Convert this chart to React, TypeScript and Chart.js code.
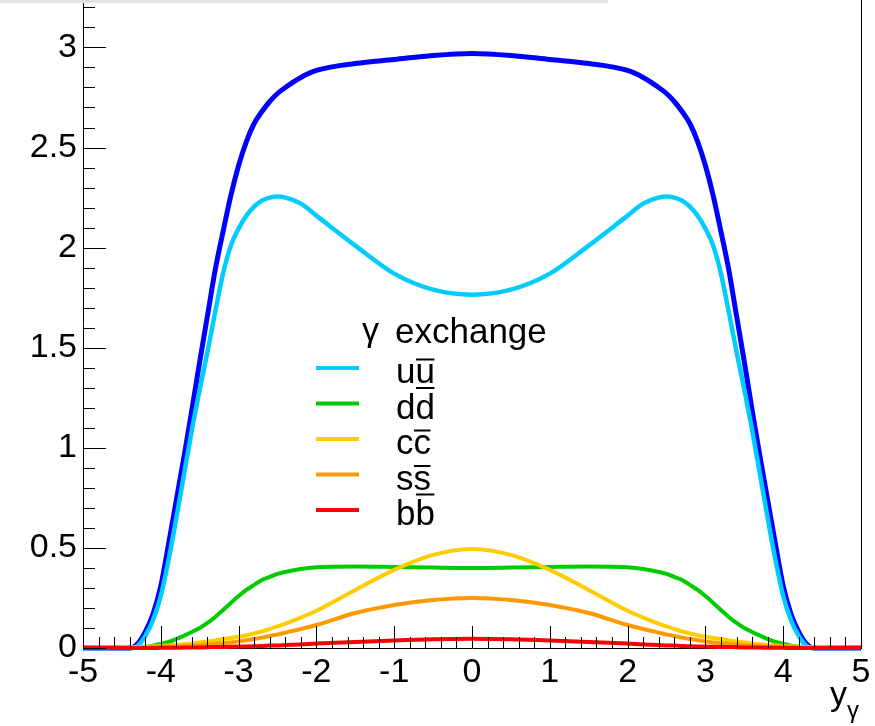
import React, { useEffect, useRef } from 'react';
import { Chart, registerables } from 'chart.js';

Chart.register(...registerables);

// ---- data ----
const xs = [
  -5, -4.6, -4.4, -4.3, -4.2, -4.1, -4.0, -3.9, -3.8, -3.7, -3.6, -3.5, -3.4, -3.3, -3.2, -3.1, -3.0,
  -2.9, -2.8, -2.7, -2.6, -2.5, -2.4, -2.2, -2.0, -1.5, -1.0, -0.5, 0,
  0.5, 1.0, 1.5, 2.0, 2.2, 2.4, 2.5, 2.6, 2.7, 2.8, 2.9,
  3.0, 3.1, 3.2, 3.3, 3.4, 3.5, 3.6, 3.7, 3.8, 3.9, 4.0, 4.1, 4.2, 4.3, 4.4, 4.6, 5,
];

const totalValues = [
  0, 0, 0, 0.02, 0.08, 0.17, 0.31, 0.52, 0.74, 0.96, 1.19, 1.43, 1.66, 1.89, 2.08, 2.26, 2.41,
  2.53, 2.62, 2.68, 2.73, 2.77, 2.8, 2.85, 2.885, 2.92, 2.94, 2.96, 2.97,
  2.96, 2.94, 2.92, 2.885, 2.85, 2.8, 2.77, 2.73, 2.68, 2.62, 2.53,
  2.41, 2.26, 2.08, 1.89, 1.66, 1.43, 1.19, 0.96, 0.74, 0.52, 0.31, 0.17, 0.08, 0.02, 0, 0, 0,
];

const uuValues = [
  0, 0, 0, 0.01, 0.06, 0.14, 0.26, 0.44, 0.65, 0.87, 1.09, 1.29, 1.48, 1.68, 1.87, 2.01, 2.095,
  2.16, 2.205, 2.235, 2.25, 2.255, 2.25, 2.22, 2.16, 2.01, 1.87, 1.79, 1.765,
  1.79, 1.87, 2.01, 2.16, 2.22, 2.25, 2.255, 2.25, 2.235, 2.205, 2.16,
  2.095, 2.01, 1.87, 1.68, 1.48, 1.29, 1.09, 0.87, 0.65, 0.44, 0.26, 0.14, 0.06, 0.01, 0, 0, 0,
];

const ddValues = [
  0, 0, 0, 0.002, 0.006, 0.012, 0.02, 0.03, 0.045, 0.062, 0.08, 0.1, 0.125, 0.155, 0.19, 0.225, 0.26,
  0.29, 0.315, 0.34, 0.355, 0.37, 0.38, 0.395, 0.403, 0.407, 0.405, 0.402, 0.4,
  0.402, 0.405, 0.407, 0.403, 0.395, 0.38, 0.37, 0.355, 0.34, 0.315, 0.29,
  0.26, 0.225, 0.19, 0.155, 0.125, 0.1, 0.08, 0.062, 0.045, 0.03, 0.02, 0.012, 0.006, 0.002, 0, 0, 0,
];

const ccValues = [
  0, 0.003, 0.004, 0.005, 0.006, 0.008, 0.01, 0.012, 0.015, 0.019, 0.023, 0.027, 0.032, 0.038, 0.045, 0.05, 0.056,
  0.064, 0.073, 0.083, 0.095, 0.108, 0.122, 0.152, 0.186, 0.29, 0.39, 0.465, 0.495,
  0.465, 0.39, 0.29, 0.186, 0.152, 0.122, 0.108, 0.095, 0.083, 0.073, 0.064,
  0.056, 0.05, 0.045, 0.038, 0.032, 0.027, 0.023, 0.019, 0.015, 0.012, 0.01, 0.008, 0.006, 0.005, 0.004, 0.003, 0,
];

const ssValues = [
  0, 0.001, 0.002, 0.003, 0.004, 0.005, 0.006, 0.007, 0.008, 0.01, 0.012, 0.014, 0.017, 0.02, 0.024, 0.028, 0.033,
  0.039, 0.045, 0.052, 0.06, 0.068, 0.077, 0.095, 0.115, 0.175, 0.215, 0.24, 0.25,
  0.24, 0.215, 0.175, 0.115, 0.095, 0.077, 0.068, 0.06, 0.052, 0.045, 0.039,
  0.033, 0.028, 0.024, 0.02, 0.017, 0.014, 0.012, 0.01, 0.008, 0.007, 0.006, 0.005, 0.004, 0.003, 0.002, 0.001, 0,
];

const bbValues = [
  0, 0, 0, 0, 0, 0, 0.001, 0.001, 0.001, 0.002, 0.002, 0.003, 0.004, 0.005, 0.005, 0.006, 0.007,
  0.008, 0.009, 0.01, 0.012, 0.013, 0.015, 0.018, 0.022, 0.03, 0.038, 0.044, 0.046,
  0.044, 0.038, 0.03, 0.022, 0.018, 0.015, 0.013, 0.012, 0.01, 0.009, 0.008,
  0.007, 0.006, 0.005, 0.005, 0.004, 0.003, 0.002, 0.002, 0.001, 0.001, 0.001, 0, 0, 0, 0, 0, 0,
];

const seriesLabels = ['total', 'uū', 'dd̄', 'cc̄', 'ss̄', 'bb̄'];
const seriesColors = ['#0000ff', '#00ccff', '#00cc00', '#ffcc00', '#ff9900', '#ff0000'];
const seriesWidths = [5, 4.5, 4, 4, 4, 4];

const xTickValues = [-5, -4, -3, -2, -1, 0, 1, 2, 3, 4, 5];
const xTickLabels = ['-5', '-4', '-3', '-2', '-1', '0', '1', '2', '3', '4', '5'];
const yTickValues = [0, 0.5, 1, 1.5, 2, 2.5, 3];
const yTickLabels = ['0', '0.5', '1', '1.5', '2', '2.5', '3'];

const legendQuarks = ['u', 'd', 'c', 's', 'b'];
const legendColors = ['#00ccff', '#00cc00', '#ffcc00', '#ff9900', '#ff0000'];
const legendSymbol = 'γ';
const legendHeader = 'exchange';
const axisTitleMain = 'y';
const axisTitleSub = 'γ';

const FONT = '"Liberation Sans", Arial, Helvetica, sans-serif';

const decorPlugin = {
  id: 'decor',
  afterDatasetsDraw(chart: any) {
    const { ctx, chartArea: a, scales } = chart;
    const x = scales.x;
    const y = scales.y;
    ctx.save();
    ctx.strokeStyle = '#000';
    ctx.lineWidth = 1;
    ctx.beginPath();
    for (let k = 0; k <= 50; k++) {
      const v = x.min + k * 0.2;
      const px = Math.round(x.getPixelForValue(v)) + 0.5;
      const len = k % 5 === 0 ? 22 : 11;
      ctx.moveTo(px, a.bottom);
      ctx.lineTo(px, a.bottom - len);
    }
    for (let k = 0; k <= 40; k++) {
      const v = k * 0.1;
      if (v > y.max) break;
      const py = Math.round(y.getPixelForValue(v)) + 0.5;
      const len = k % 5 === 0 ? 23 : 12;
      ctx.moveTo(a.left, py);
      ctx.lineTo(a.left + len, py);
    }
    ctx.moveTo(Math.round(a.right) + 0.5, a.top);
    ctx.lineTo(Math.round(a.right) + 0.5, a.bottom);
    ctx.stroke();

    ctx.fillStyle = '#000';
    ctx.textBaseline = 'alphabetic';
    ctx.textAlign = 'left';
    ctx.font = `34px ${FONT}`;
    ctx.fillText(axisTitleMain, a.right - 31, a.bottom + 57);
    ctx.font = `24px ${FONT}`;
    ctx.fillText(axisTitleSub, a.right - 14, a.bottom + 70);

    const lx0 = 316;
    const lx1 = 359;
    const tx = 396;
    ctx.font = `34px ${FONT}`;
    ctx.fillText(legendSymbol, 362, 341);
    ctx.font = `35px ${FONT}`;
    ctx.fillText(legendHeader, 395, 343);
    for (let i = 0; i < legendQuarks.length; i++) {
      const ly = 368 + 35.5 * i;
      ctx.strokeStyle = legendColors[i];
      ctx.lineWidth = 4;
      ctx.beginPath();
      ctx.moveTo(lx0, ly);
      ctx.lineTo(lx1, ly);
      ctx.stroke();
      const q = legendQuarks[i];
      const base = ly + 15;
      ctx.fillStyle = '#000';
      ctx.font = `35px ${FONT}`;
      ctx.fillText(q, tx, base);
      const w1 = ctx.measureText(q).width;
      ctx.fillText(q, tx + w1, base);
      const m = ctx.measureText(q);
      const barY = base - m.actualBoundingBoxAscent - 4.5;
      ctx.strokeStyle = '#000';
      ctx.lineWidth = 2;
      ctx.beginPath();
      ctx.moveTo(tx + w1 + 0.5, barY);
      ctx.lineTo(tx + w1 + m.width - 0.5, barY);
      ctx.stroke();
    }
    ctx.restore();
  },
};

export default function App() {
  const ref = useRef<HTMLCanvasElement | null>(null);

  useEffect(() => {
    if (!ref.current) return;
    const all = [totalValues, uuValues, ddValues, ccValues, ssValues, bbValues];
    const datasets = all.map((vals, i) => ({
      label: seriesLabels[i],
      data: xs.map((xv, j) => ({ x: xv, y: vals[j] })),
      borderColor: seriesColors[i],
      backgroundColor: seriesColors[i],
      borderWidth: seriesWidths[i],
      pointRadius: 0,
      fill: false,
      cubicInterpolationMode: 'monotone' as const,
      clip: 6,
      order: all.length - i,
    }));

    const chart = new Chart(ref.current, {
      type: 'line',
      data: { datasets },
      options: {
        animation: false,
        responsive: false,
        maintainAspectRatio: false,
        layout: { padding: { top: 0, right: 14, left: 0, bottom: 0 } },
        plugins: { legend: { display: false }, tooltip: { enabled: false } },
        scales: {
          x: {
            type: 'linear',
            min: -5,
            max: 5,
            afterBuildTicks: (s: any) => {
              s.ticks = xTickValues.map((v) => ({ value: v }));
            },
            afterFit: (s: any) => {
              s.height = 78;
              s.paddingLeft = 0;
              s.paddingRight = 0;
            },
            grid: { display: false, drawTicks: false },
            border: { display: true, color: '#000', width: 1 },
            ticks: {
              autoSkip: false,
              maxRotation: 0,
              padding: 4,
              color: '#000',
              font: { family: FONT, size: 34 },
              callback: (v: any) => {
                const i = xTickValues.indexOf(Number(v));
                return i >= 0 ? xTickLabels[i] : '';
              },
            },
          },
          y: {
            type: 'linear',
            min: 0,
            max: 3.237,
            afterBuildTicks: (s: any) => {
              s.ticks = yTickValues.map((v) => ({ value: v }));
            },
            afterFit: (s: any) => {
              s.width = 83;
              s.paddingTop = 0;
              s.paddingBottom = 0;
            },
            grid: { display: false, drawTicks: false },
            border: { display: true, color: '#000', width: 1 },
            ticks: {
              autoSkip: false,
              padding: 6,
              color: '#000',
              font: { family: FONT, size: 34 },
              callback: (v: any) => {
                const i = yTickValues.indexOf(Number(v));
                return i >= 0 ? yTickLabels[i] : '';
              },
            },
          },
        },
      },
      plugins: [decorPlugin],
    });
    return () => chart.destroy();
  }, []);

  return (
    <div style={{ position: 'absolute', left: 0, top: 0, width: 875, height: 726, background: '#fff' }}>
      <canvas ref={ref} width={875} height={726} style={{ display: 'block', width: 875, height: 726 }} />
      <div style={{ position: 'absolute', left: 0, top: 0, width: 608, height: 3, background: '#e2e2e2' }} />
    </div>
  );
}
